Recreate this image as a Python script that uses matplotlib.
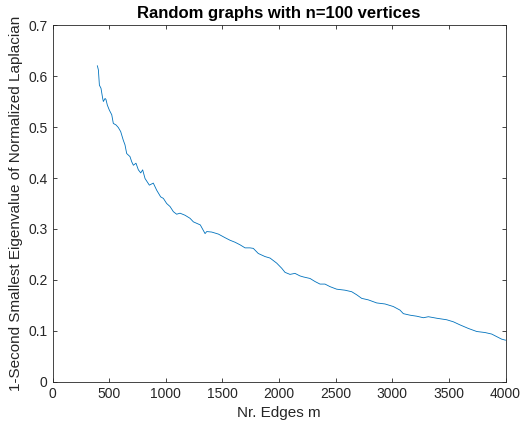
import matplotlib
matplotlib.use("Agg")
import matplotlib.pyplot as plt

# values (number of edges, eigenvalue gap)
edges = [396, 405, 414, 428, 443, 449, 464, 472, 484, 502, 523, 537, 561, 581,
         602, 625, 640, 655, 684, 699, 714, 737, 758, 779, 796, 817, 855, 890,
         920, 955, 979, 1008, 1038, 1067, 1096, 1126, 1170, 1214, 1244, 1305,
         1347, 1362, 1406, 1465, 1523, 1567, 1612, 1656, 1700, 1744, 1773,
         1817, 1876, 1921, 1980, 2024, 2053, 2097, 2141, 2185, 2215, 2274,
         2318, 2362, 2406, 2450, 2509, 2583, 2642, 2686, 2730, 2789, 2863,
         2936, 3009, 3068, 3098, 3157, 3216, 3275, 3319, 3393, 3481, 3540,
         3598, 3672, 3746, 3819, 3878, 3922, 3966, 4000]
gap = [0.620, 0.612, 0.582, 0.576, 0.556, 0.550, 0.556, 0.554, 0.543, 0.533,
       0.524, 0.507, 0.504, 0.499, 0.491, 0.474, 0.465, 0.448, 0.442, 0.432,
       0.425, 0.429, 0.416, 0.410, 0.416, 0.399, 0.386, 0.390, 0.376, 0.363,
       0.360, 0.350, 0.344, 0.334, 0.329, 0.331, 0.327, 0.321, 0.314, 0.308,
       0.291, 0.295, 0.294, 0.290, 0.283, 0.278, 0.274, 0.269, 0.263, 0.263,
       0.262, 0.252, 0.246, 0.243, 0.233, 0.223, 0.215, 0.211, 0.213, 0.208,
       0.206, 0.203, 0.197, 0.192, 0.192, 0.187, 0.182, 0.180, 0.177, 0.171,
       0.164, 0.161, 0.155, 0.153, 0.148, 0.141, 0.134, 0.131, 0.129, 0.126,
       0.128, 0.125, 0.122, 0.118, 0.112, 0.105, 0.099, 0.097, 0.094, 0.089,
       0.084, 0.082]

xticks = [0, 500, 1000, 1500, 2000, 2500, 3000, 3500, 4000]
yticks = [0, 0.1, 0.2, 0.3, 0.4, 0.5, 0.6, 0.7]

plt.rcParams['font.family'] = ['Liberation Sans', 'DejaVu Sans']
grey = '#262626'

fig = plt.figure(figsize=(5.22, 4.26), dpi=100)
ax = fig.add_axes([0.1006, 0.1033, 0.8678, 0.8380])
ax.plot(edges, gap, color='#0072BD', linewidth=0.6)

ax.set_xlim(0, 4000)
ax.set_ylim(0, 0.7)
ax.set_xticks(xticks)
ax.set_yticks(yticks)
ax.set_yticklabels(['0', '0.1', '0.2', '0.3', '0.4', '0.5', '0.6', '0.7'])
ax.tick_params(direction='in', top=True, right=True, length=3, width=0.6,
               colors=grey, labelsize=10)
for s in ax.spines.values():
    s.set_color(grey)
    s.set_linewidth(0.6)

ax.set_xlabel('Nr. Edges m', fontsize=11, color=grey)
ax.set_ylabel('1-Second Smallest Eigenvalue of Normalized Laplacian',
              fontsize=11, color=grey)
ax.set_title('Random graphs with n=100 vertices', fontsize=12,
             fontweight='bold', color='black', pad=5)

fig.savefig('out.png', dpi=100)
